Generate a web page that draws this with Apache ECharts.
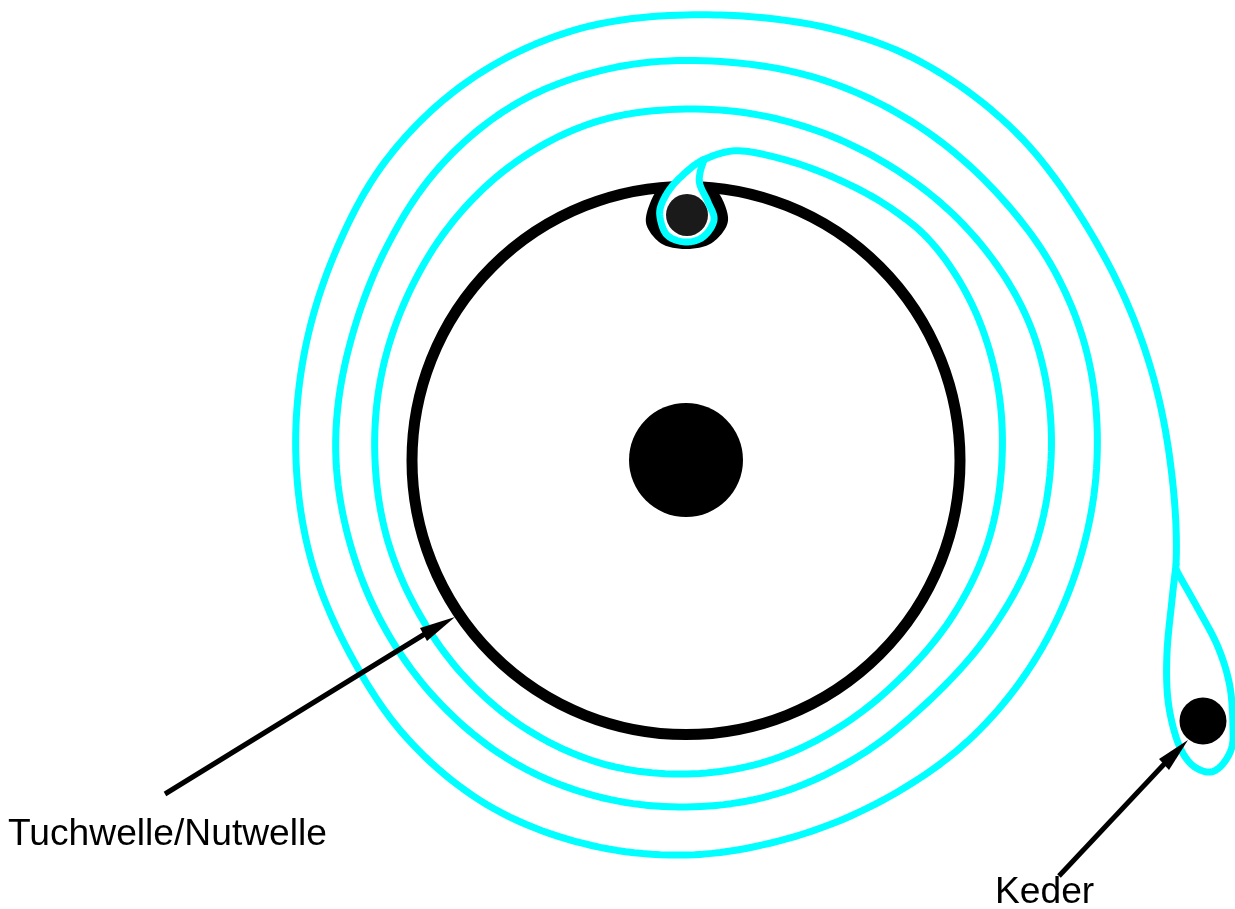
<!DOCTYPE html>
<html><head><meta charset="utf-8">
<script src="https://cdn.jsdelivr.net/npm/echarts@6/dist/echarts.min.js"></script>
<style>html,body{margin:0;background:#fff}#c{width:1235px;height:909px}</style></head>
<body><div id="c"></div>
<script>
const kederLoop=[[1176,565],[1178,573],[1197,607],[1218,647],[1230,687],[1233,730],[1231,750],[1220,767],[1207,772],[1190,763],[1177,740],[1168,700],[1167,653],[1172,600],[1176,565]];
const spiralCentre=[686,460];
// spiral as [bearing in degrees clockwise from up, distance from the hub]
const spiralReadings=[[102,501],[90,484],[75,471],[60,464],[45,465],[30,462],[20,456],[10,449],[0,445],[-15,444],[-30,437],[-45,424],[-60,407],[-75,396],[-90,390],[-105,388],[-120,388],[-135,394],[-150,398],[-165,397],[-180,395],[-195,392],[-210,393],[-225,398],[-240,402],[-255,406],[-270,411],[-285,415],[-298,414],[-310,410],[-325,407],[-340,404],[-355,400],[-370,399],[-385,395],[-400,383],[-415,367],[-430,356],[-450,350],[-465,346],[-480,345],[-495,346],[-510,348],[-525,348],[-540,347],[-555,346],[-570,343],[-585,342],[-600,349],[-615,359],[-630,365],[-645,369],[-655,369],[-670,364],[-685,358],[-700,354],[-720,351],[-735,350],[-750,343],[-765,333],[-780,323],[-795,316],[-810,311],[-825,309],[-840,308],[-855,310],[-870,313],[-885,315],[-900,314],[-915,312],[-930,308],[-945,306],[-960,309],[-975,313],[-990,316],[-1005,321],[-1020,326],[-1032,328],[-1040,325],[-1052,319],[-1062,316],[-1071,313],[-1077,300]];
const dropCurve=[[703,160],[692,167],[673,185],[662,203],[660,217],[667,235],[685,242],[703,237],[714,220],[708,202],[700,185],[700,173],[704,160]];
const blackBlob=[[668,184],[655,193],[646,217],[650,232],[664,245],[686,249],[708,245],[723,232],[728,217],[720,195],[707,184]];
const ring=[[686,460.5]];
const hub=[[686,460]];
const roller=[[687,215]];
const keder=[[1203,721]];
const arrowShafts=[[[165,794],[428,632]],[[1059,876],[1168,760]]];
const arrowHeads=[[[455,617],[420,628],[427,641]],[[1188,740],[1159,759],[1169,770]]];
const labels=[["Tuchwelle/Nutwelle",8,835],["Keder",995,893]];

// Catmull-Rom rendering of the points (smoothing only, no invented values)
function spline(p,closed,steps=12){
  const out=[],n=p.length,g=i=>closed?p[(i+n)%n]:p[Math.max(0,Math.min(n-1,i))];
  const last=closed?n:n-1;
  for(let i=0;i<last;i++){
    const a=g(i-1),b=g(i),c=g(i+1),d=g(i+2);
    for(let k=0;k<steps;k++){
      const t=k/steps,t2=t*t,t3=t2*t;
      out.push([0,1].map(j=>0.5*(2*b[j]+(c[j]-a[j])*t+(2*a[j]-5*b[j]+4*c[j]-d[j])*t2+(3*b[j]-a[j]-3*c[j]+d[j])*t3)));
    }
  }
  if(!closed)out.push(p[n-1]);
  return out;
}
const toXY=([deg,r])=>{const a=deg*Math.PI/180;return [spiralCentre[0]+r*Math.sin(a),spiralCentre[1]-r*Math.cos(a)];};
const spiralKnots=spiralReadings.map(toXY);

const custom=(name,pts,z,build)=>({type:'custom',name,z,silent:true,clip:false,coordinateSystem:'cartesian2d',data:pts,encode:{x:0,y:1},
  renderItem:(params,api)=>{
    if(params.dataIndex!==0)return null;
    return build(api);
  }});
const stroke={fill:null,stroke:'#00ffff',lineWidth:7,lineCap:'round',lineJoin:'round'};
const curve=(name,pts,z)=>custom(name,pts,z,api=>({type:'polyline',shape:{points:spline(pts.map(q=>api.coord(q)),false)},style:stroke}));
const spiralSeries=custom('spiral',spiralKnots,6,api=>({type:'polyline',shape:{points:spline(spiralReadings,false).map(q=>api.coord(toXY(q)))},style:stroke}));
const shaft=(name,pts,z)=>custom(name,pts,z,api=>({type:'polyline',shape:{points:pts.map(q=>api.coord(q))},style:{fill:null,stroke:'#000',lineWidth:5}}));
const blob=(name,pts,color,z)=>custom(name,pts,z,api=>({type:'polygon',shape:{points:spline(pts.map(q=>api.coord(q)),true)},style:{fill:color}}));
const head=(name,pts,z)=>custom(name,pts,z,api=>({type:'polygon',shape:{points:pts.map(q=>api.coord(q))},style:{fill:'#000'}}));
const dot=(name,data,size,color,z,border)=>({type:'scatter',name,data,z,silent:true,symbol:'circle',symbolSize:size,itemStyle:Object.assign({opacity:1},border?{color:'rgba(0,0,0,0)',borderColor:border,borderWidth:11}:{color})});

const option={animation:false,backgroundColor:'#fff',
 grid:{left:0,right:0,top:0,bottom:0},
 xAxis:{type:'value',min:0,max:1235,show:false},
 yAxis:{type:'value',min:0,max:909,inverse:true,show:false},
 series:[
  dot('ring',ring,548,'none',1,'#000'),
  dot('hub',hub,114,'#000',2),
  blob('blob',blackBlob,'#000',3),
  blob('dropFill',dropCurve.slice(0,-1),'#fff',4),
  dot('roller',roller,42,'#1a1a1a',5),
  spiralSeries,
  curve('drop',dropCurve,6),
  curve('kederLoop',kederLoop,6),
  dot('keder',keder,47,'#000',7),
  ...arrowShafts.map((d,i)=>shaft('shaft'+i,d,8)),
  ...arrowHeads.map((d,i)=>head('head'+i,d,9)),
  {type:'scatter',name:'labels',z:10,silent:true,symbolSize:0,
   data:labels.map(l=>({value:[l[1],l[2]],name:l[0]})),
   label:{show:true,position:'right',distance:0,formatter:'{b}',fontFamily:'Liberation Sans',fontSize:37.2,color:'#000',opacity:1}}
 ]};
echarts.init(document.getElementById('c'),null,{renderer:'canvas'}).setOption(option);
</script></body></html>
